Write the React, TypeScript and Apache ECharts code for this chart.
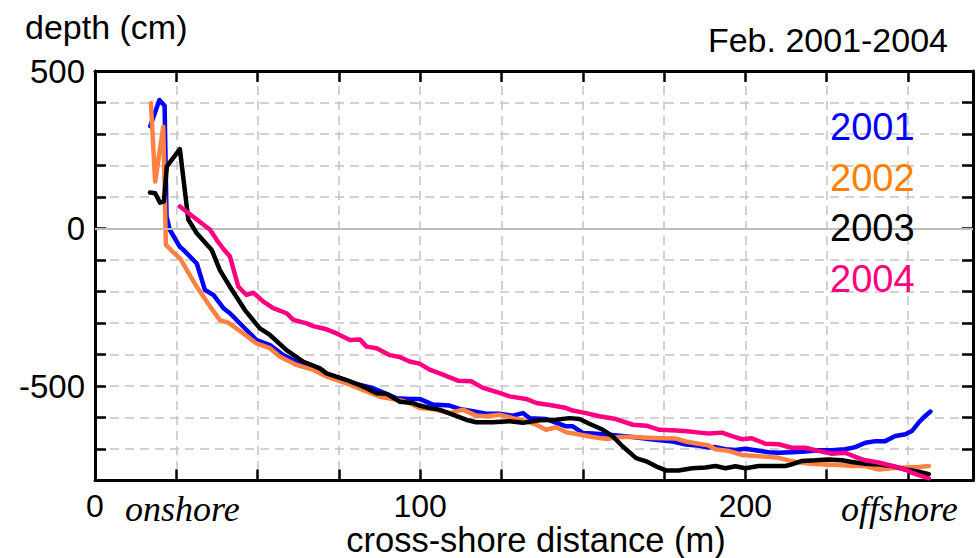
import React, { useEffect, useRef } from "react";
import * as echarts from "echarts";

// cross-shore distance (m), depth (cm)
const profile2001: [number, number][] = [
  [17, 325], [19.8, 408], [21.4, 390], [22, 38], [23, -4], [26, -57], [27.2, -68], [31.3, -111],
  [33.8, -195], [36.4, -211], [39.5, -253], [41.5, -269], [45.6, -312], [49.7, -354], [53.8, -370],
  [57.9, -402], [63, -428], [67.1, -439], [71.2, -465], [77.4, -486], [85.6, -507], [92.8, -539],
  [96.7, -541], [99.8, -541], [103.9, -559], [109, -562], [112.1, -573], [116.2, -580], [120.3, -588],
  [124.4, -588], [128.5, -594], [131.6, -586], [133.6, -602], [138.7, -605], [144.9, -628], [146.9, -628],
  [150, -649], [153.1, -651], [157.2, -654], [161.3, -658], [165.4, -662], [171.5, -670], [177.7, -676],
  [181.8, -686], [185.9, -690], [188.5, -695], [190.8, -694], [193.9, -701], [196.9, -703], [200, -699],
  [203.1, -704], [207.2, -710], [210.2, -712], [214.3, -710], [218.4, -708], [222.5, -704], [226.6, -704],
  [230.7, -701], [233.8, -694], [236.9, -680], [240, -675], [243, -675], [246.1, -659], [249.2, -653],
  [251.2, -643], [253.3, -616], [255.3, -595], [256.9, -581],
];

const profile2002: [number, number][] = [
  [17.2, 398], [18.5, 149], [21, 323], [21.8, -52], [23.5, -70], [26.3, -97], [31.3, -185], [35.4, -248],
  [38.4, -291], [41, -299], [45.6, -333], [49.7, -365], [53.8, -380], [56.9, -407], [62, -433], [67.1, -449],
  [71.2, -470], [77.4, -492], [82.5, -513], [87.6, -534], [93.6, -545], [96.7, -554], [99.8, -570],
  [103.9, -573], [109, -586], [113.1, -575], [117.2, -594], [120.3, -596], [124.4, -591], [128.5, -602],
  [132.6, -612], [135.7, -623], [138.7, -639], [141.8, -631], [144.9, -647], [149, -654], [153.1, -662],
  [157.2, -668], [161.3, -662], [165.4, -662], [171.5, -665], [178.7, -667], [182, -677], [186, -684],
  [188.5, -688], [190.8, -701], [194.9, -706], [199, -719], [203.1, -722], [207.2, -725], [210.2, -728],
  [213.3, -736], [216.4, -743], [220.5, -747], [224.6, -749], [228.7, -751], [232.8, -754], [236.9, -754],
  [241, -765], [245.1, -761], [249.2, -759], [253.3, -757], [256.4, -754],
];

const profile2003: [number, number][] = [
  [16.9, 114], [18.5, 112], [20, 82], [21.2, 86], [22.1, 197], [26.1, 252], [28.7, 28], [31.3, -15],
  [35.9, -68], [38.4, -132], [41.5, -185], [46.1, -259], [50.7, -317], [53.8, -338], [58.9, -386],
  [64.1, -423], [69.2, -444], [71.2, -460], [77.4, -481], [82.5, -502], [86.6, -523], [89.7, -525],
  [93.8, -550], [97.7, -554], [99.8, -562], [102.9, -570], [105.9, -575], [110, -591], [114.1, -607],
  [117.2, -615], [122.3, -615], [127.5, -612], [131.6, -617], [136.7, -609], [141.8, -607], [145.9, -602],
  [149, -605], [152, -620], [156.2, -639], [159.2, -660], [162.3, -692], [166.4, -729], [169.5, -739],
  [172.5, -755], [175.6, -768], [179.5, -768], [183.6, -761], [187.7, -759], [190.8, -754], [193.9, -761],
  [196.9, -755], [200, -761], [204.1, -754], [208.2, -754], [212.3, -754], [214.3, -749], [217.4, -738],
  [221.5, -736], [225.6, -733], [229.7, -736], [232.8, -741], [236.9, -747], [241, -749], [245.1, -754],
  [249.2, -765], [253.3, -772], [256.4, -780],
];

const profile2004: [number, number][] = [
  [26.1, 70], [35.4, -4], [37.4, -36], [39.5, -65], [41.5, -89], [44.1, -185], [46.6, -211], [48.7, -204],
  [51.8, -232], [54.8, -253], [58.9, -269], [61, -290], [65.1, -301], [67.1, -310], [71.2, -320],
  [74.3, -333], [78.4, -354], [81.5, -352], [83.5, -375], [86.6, -380], [90.7, -402], [93.7, -408],
  [96.7, -422], [99.8, -429], [102.9, -448], [107, -464], [111.6, -483], [115.7, -485], [119.3, -506],
  [124.4, -522], [127.5, -533], [132.6, -541], [135.7, -554], [140.8, -562], [144.9, -570], [146.9, -578],
  [151, -586], [155.1, -596], [160.2, -605], [165.4, -623], [169.5, -626], [173.6, -639], [178.7, -641],
  [182, -644], [185.9, -648], [188.7, -651], [192.8, -648], [195.9, -659], [199, -669], [202, -666],
  [206.1, -683], [210.2, -685], [214.3, -696], [218.4, -696], [222.5, -706], [226.6, -715], [230.7, -712],
  [233.8, -725], [236.9, -736], [241, -743], [245.1, -754], [249.2, -765], [251.2, -775], [253.3, -783],
  [256.4, -793],
];

const years = ["2001", "2002", "2003", "2004"];
const profiles = [profile2001, profile2002, profile2003, profile2004];
const lineColors = ["#0000ff", "#ff8040", "#000000", "#ff0080"];
const labelColors = ["#0000ff", "#ff8000", "#000000", "#ff0080"];
const xTickLabels = [0, 100, 200];
const yTickLabels = [500, 0, -500];

const SANS = "'Liberation Sans', Arial, Helvetica, sans-serif";
const SERIF = "'Liberation Serif', 'Times New Roman', serif";

export default function App() {
  const ref = useRef<HTMLDivElement>(null);

  useEffect(() => {
    if (!ref.current) return;
    const chart = echarts.init(ref.current, null, { renderer: "svg" });

    const axisLine = { show: true, onZero: false, lineStyle: { color: "#000", width: 3 } };
    const tick = { show: true, inside: true, length: 11, lineStyle: { color: "#000", width: 2.5 } };
    const grid = { show: true, lineStyle: { color: "#c4c4c4", width: 1.5, type: [9, 6] } };

    const xBase = { type: "value", min: 0, max: 270, interval: 25 };
    const yBase = { type: "value", min: -800, max: 500, interval: 100 };

    const series: any[] = profiles.map((p, i) => ({
      name: years[i],
      type: "line",
      data: p,
      showSymbol: false,
      symbol: "none",
      z: 3 + i,
      lineStyle: { color: lineColors[i], width: 4.5, join: "round", cap: "round" },
      itemStyle: { color: lineColors[i] },
    }));
    series.unshift({
      type: "line",
      data: [],
      z: 1,
      silent: true,
      markLine: {
        silent: true,
        symbol: "none",
        label: { show: false },
        lineStyle: { color: "#bdbdbd", width: 2, type: "solid" },
        data: [{ yAxis: 0 }],
      },
    });

    const legendTexts = years.map((y, i) => ({
      type: "text",
      x: 830,
      y: 127 + i * 50.5,
      style: {
        text: y,
        fill: labelColors[i],
        fontSize: 38,
        fontFamily: SANS,
        align: "left",
        verticalAlign: "middle",
      },
      z: 10,
    }));

    chart.setOption({
      animation: false,
      backgroundColor: "#fff",
      grid: { left: 95, top: 71, right: 2, bottom: 77.5 },
      xAxis: [
        {
          ...xBase,
          position: "bottom",
          axisLine,
          axisTick: tick,
          splitLine: grid,
          axisLabel: {
            margin: 9,
            fontSize: 32,
            color: "#000",
            fontFamily: SANS,
            formatter: (v: number) => (xTickLabels.includes(v) ? String(v) : ""),
          },
        },
        {
          ...xBase,
          position: "top",
          axisLine,
          axisTick: tick,
          splitLine: { show: false },
          axisLabel: { show: false },
        },
      ],
      yAxis: [
        {
          ...yBase,
          position: "left",
          axisLine,
          axisTick: tick,
          splitLine: grid,
          axisLabel: {
            margin: 10,
            fontSize: 33,
            color: "#000",
            fontFamily: SANS,
            formatter: (v: number) => (yTickLabels.includes(v) ? String(v) : ""),
          },
        },
        {
          ...yBase,
          position: "right",
          axisLine,
          axisTick: tick,
          splitLine: { show: false },
          axisLabel: { show: false },
        },
      ],
      series,
      graphic: [
        {
          type: "text",
          x: 25,
          y: 27,
          style: { text: "depth (cm)", fill: "#000", fontSize: 34, fontFamily: SANS, align: "left", verticalAlign: "middle" },
        },
        {
          type: "text",
          x: 948,
          y: 40,
          style: { text: "Feb. 2001-2004", fill: "#000", fontSize: 34, fontFamily: SANS, align: "right", verticalAlign: "middle" },
        },
        {
          type: "text",
          x: 536,
          y: 540,
          style: { text: "cross-shore distance (m)", fill: "#000", fontSize: 34.5, fontFamily: SANS, align: "center", verticalAlign: "middle" },
        },
        {
          type: "text",
          x: 125,
          y: 509,
          style: { text: "onshore", fill: "#000", fontSize: 36, fontStyle: "italic", fontFamily: SERIF, align: "left", verticalAlign: "middle" },
        },
        {
          type: "text",
          x: 841,
          y: 509,
          style: { text: "offshore", fill: "#000", fontSize: 36, fontStyle: "italic", fontFamily: SERIF, align: "left", verticalAlign: "middle" },
        },
        ...legendTexts,
      ],
    });

    return () => chart.dispose();
  }, []);

  return (
    <div
      ref={ref}
      style={{ position: "absolute", left: 0, top: 0, width: 976, height: 558, background: "#fff" }}
    />
  );
}
